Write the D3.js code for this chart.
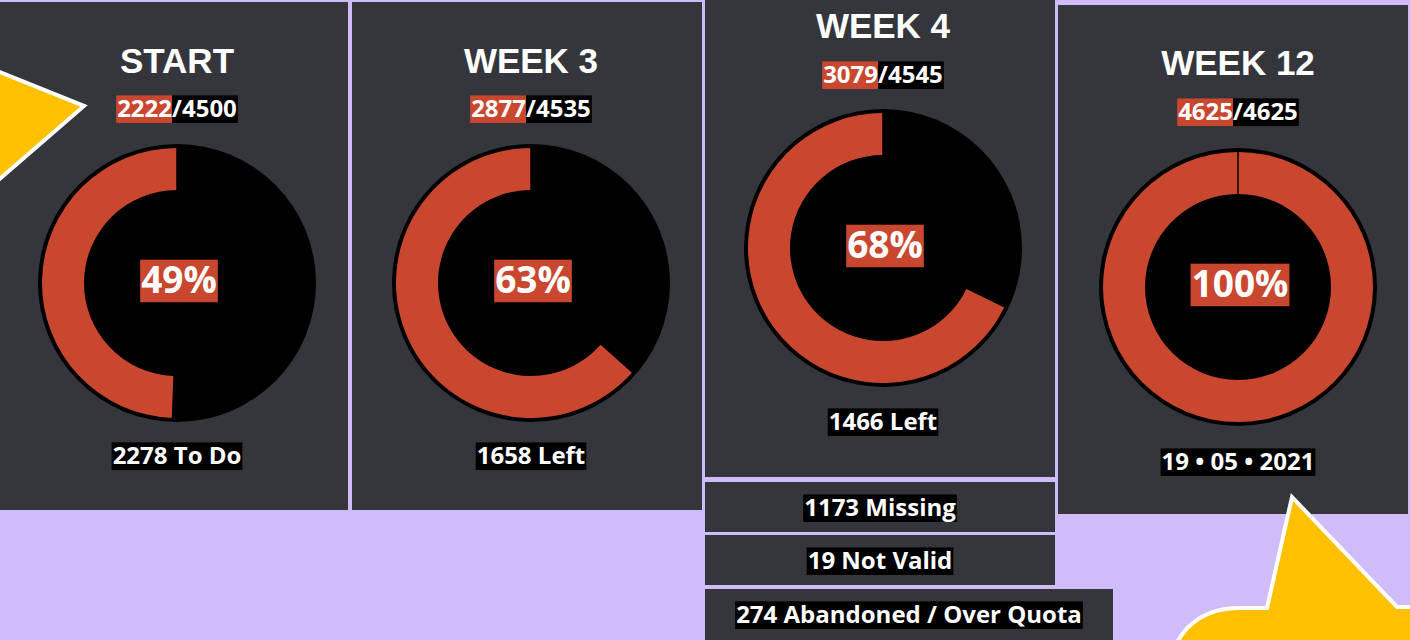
<!DOCTYPE html>
<html>
<head>
<meta charset="utf-8">
<script src="https://cdn.jsdelivr.net/npm/d3@7"></script>
<style>
  html, body { margin: 0; padding: 0; background: #d1bcfa; overflow: hidden; }
  svg { display: block; }
  .label { font-family: "Open Sans", Roboto, sans-serif; font-weight: 700; fill: #fff; }
  .title { font-family: "Liberation Sans", Arial, sans-serif; font-weight: 700; fill: #fff; }
</style>
</head>
<body>
<svg id="chart" width="1410" height="640"></svg>
<script>
// ---- data ----
const stages = ["START", "WEEK 3", "WEEK 4", "WEEK 12"];
const done = [2222, 2877, 3079, 4625];
const totals = [4500, 4535, 4545, 4625];
const footers = ["2278 To Do", "1658 Left", "1466 Left", "19 \u2022 05 \u2022 2021"];
const extraCounts = [1173, 19, 274];
const extraLabels = ["Missing", "Not Valid", "Abandoned / Over Quota"];

// ---- layout (per panel) ----
const panelBoxes = [
    { x: -4, y: 2, w: 352, h: 508, cx: 177, cy: 283, titleY: 73, countY: 117, footY: 464 },
    { x: 352, y: 2, w: 350, h: 508, cx: 531, cy: 283, titleY: 73, countY: 117, footY: 464 },
    { x: 705, y: -4, w: 350, h: 481, cx: 883, cy: 248, titleY: 38, countY: 83, footY: 430 },
    { x: 1058, y: 5, w: 350, h: 509, cx: 1238, cy: 287, titleY: 75, countY: 120, footY: 470 }
];
const extraBoxes = [
    { x: 705, y: 482, w: 350, h: 50 },
    { x: 705, y: 535, w: 350, h: 50 },
    { x: 705, y: 589, w: 408, h: 55 }
];

const PANEL = "#35363b", RED = "#c9472f", YELLOW = "#ffc000";
const OUTER_R = 139, RING_OUT = 135, RING_IN = 93;

const svg = d3.select("#chart");

// labelled text with a solid background box
function boxedText(g, x, y, parts, size) {
    const t = g.append("text")
        .attr("class", "label")
        .attr("x", x).attr("y", y)
        .attr("text-anchor", "middle")
        .style("font-size", size + "px");
    parts.forEach(p => t.append("tspan").text(p.text));
    const node = t.node();
    const bb = node.getBBox();
    let offset = 0, start = 0;
    parts.forEach(p => {
        const len = node.getSubStringLength(start, p.text.length);
        const pad0 = start === 0 ? 1 : 0;
        const pad1 = start + p.text.length === node.getNumberOfChars() ? 1 : 0;
        g.insert("rect", () => node)
            .attr("x", bb.x + offset - pad0)
            .attr("y", y - size * 0.9)
            .attr("width", len + pad0 + pad1)
            .attr("height", size * 1.15)
            .attr("fill", p.bg);
        offset += len;
        start += p.text.length;
    });
    return t;
}

// panels
const panels = svg.selectAll("g.panel")
    .data(stages.map((s, i) => ({ stage: s, done: done[i], total: totals[i], foot: footers[i], box: panelBoxes[i] })))
    .join("g")
    .attr("class", "panel");

panels.append("rect")
    .attr("x", d => d.box.x).attr("y", d => d.box.y)
    .attr("width", d => d.box.w).attr("height", d => d.box.h)
    .attr("fill", PANEL);

// donuts
const arc = d3.arc().innerRadius(RING_IN).outerRadius(RING_OUT);
panels.each(function (d) {
    const g = d3.select(this);
    const angle = d3.scaleLinear().domain([0, d.total]).range([0, -2 * Math.PI]);
    const donut = g.append("g").attr("transform", `translate(${d.box.cx},${d.box.cy})`);
    donut.append("circle").attr("r", OUTER_R).attr("fill", "#000");
    donut.append("path")
        .attr("d", arc({ startAngle: angle(d.done), endAngle: angle(0) }))
        .attr("fill", RED);
    donut.append("line")
        .attr("x1", 0).attr("x2", 0)
        .attr("y1", -RING_IN).attr("y2", -RING_OUT)
        .attr("stroke", "#000").attr("stroke-width", 1.5);

    const pct = d3.format(".0%")(d.done / d.total);
    boxedText(donut, 2, 10, [{ text: pct, bg: RED }], 37);

    g.append("text")
        .attr("class", "title")
        .attr("x", d.box.cx).attr("y", d.box.titleY)
        .attr("text-anchor", "middle")
        .style("font-size", "35px")
        .text(d.stage);

    boxedText(g, d.box.cx, d.box.countY, [
        { text: String(d.done), bg: RED },
        { text: "/" + d.total, bg: "#000" }
    ], 24);

    boxedText(g, d.box.cx, d.box.footY, [{ text: d.foot, bg: "#000" }], 24);
});

// extra boxes under week 4
const extras = svg.selectAll("g.extra")
    .data(extraCounts.map((c, i) => ({ text: c + " " + extraLabels[i], box: extraBoxes[i] })))
    .join("g").attr("class", "extra");
extras.append("rect")
    .attr("x", d => d.box.x).attr("y", d => d.box.y)
    .attr("width", d => d.box.w).attr("height", d => d.box.h)
    .attr("fill", PANEL);
extras.each(function (d) {
    boxedText(d3.select(this), d.box.x + d.box.w / 2, d.box.y + 34, [{ text: d.text, bg: "#000" }], 24);
});

// decorative shapes
svg.append("path")
    .attr("d", "M-20,64 L84,106 L-20,196 Z")
    .attr("fill", YELLOW).attr("stroke", "#fff").attr("stroke-width", 4).attr("stroke-linejoin", "miter");

svg.append("path")
    .attr("d", "M1170,660 C1180,625 1205,608 1240,608 L1267,608 L1292,497 L1397,607 L1430,607 L1430,660 Z")
    .attr("fill", YELLOW).attr("stroke", "#fff").attr("stroke-width", 4).attr("stroke-linejoin", "miter");
</script>
</body>
</html>
